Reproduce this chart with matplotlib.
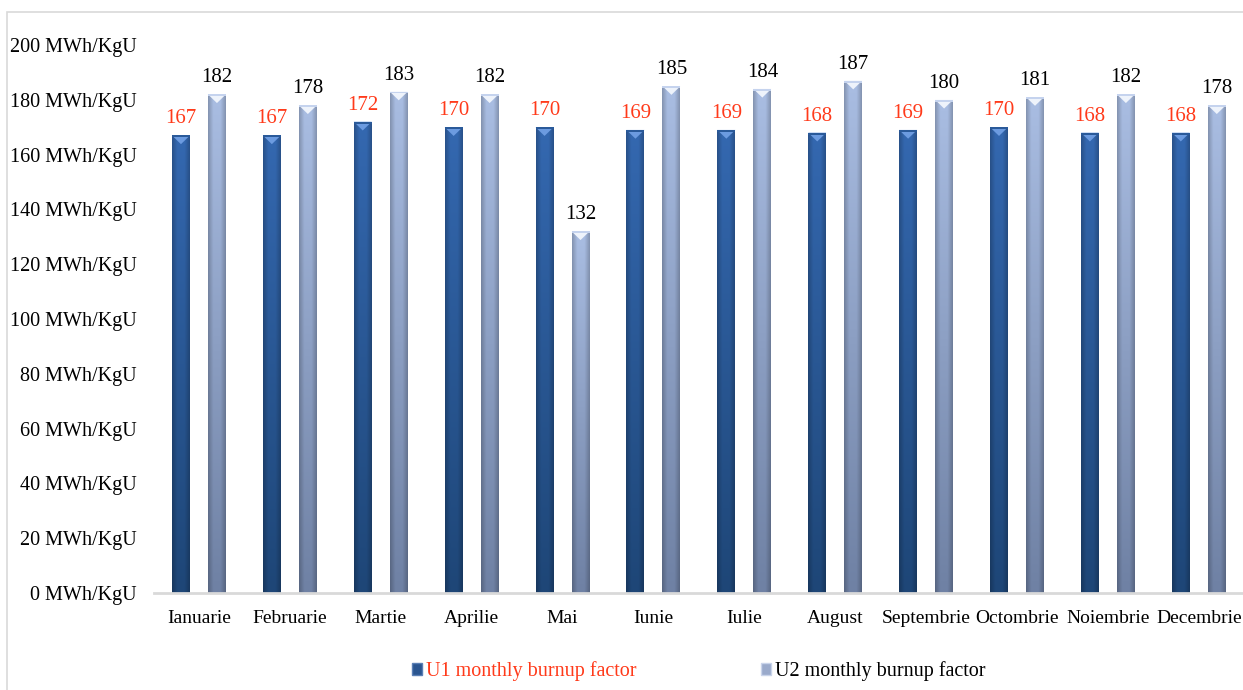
import numpy as np
import matplotlib
matplotlib.use("Agg")
import matplotlib.pyplot as plt
from matplotlib.patches import Rectangle, Polygon
from matplotlib.colors import LinearSegmentedColormap

plt.rcParams['font.family'] = ['Liberation Serif', 'DejaVu Serif']

luni = ['Ianuarie', 'Februarie', 'Martie', 'Aprilie', 'Mai', 'Iunie', 'Iulie',
        'August', 'Septembrie', 'Octombrie', 'Noiembrie', 'Decembrie']
u1 = [167, 167, 172, 170, 170, 169, 169, 168, 169, 170, 168, 168]
u2 = [182, 178, 183, 182, 132, 185, 184, 187, 180, 181, 182, 178]
yticks = list(range(0, 201, 20))

rosu = '#FF3A1A'
w = 0.198

fig = plt.figure(figsize=(12.43, 6.9), dpi=100)
ax = fig.add_axes([0.1235, 0.1406, 0.8775, 0.7942])

# chenar gri in jurul graficului
fig.patches.append(Rectangle((7 / 1243, -0.01), 1.1, 1 - 12 / 690 + 0.01,
                             transform=fig.transFigure, fill=False,
                             edgecolor='#D9D9D9', lw=1.2))

def bara_gradient(x0, h, sus, jos, muchie, bevel):
    bars = ax.bar(x0, h, width=w, color=sus, zorder=2)
    b = bars[0]
    # gradient vertical + umbra pe margini
    n = 64
    vert = np.linspace(0, 1, n)[:, None]
    oriz = np.linspace(-1, 1, n)[None, :]
    cmap = LinearSegmentedColormap.from_list('g', [jos, sus])
    img = cmap(vert * np.ones_like(oriz))
    umbra = 1 - 0.22 * np.clip(np.abs(oriz) - 0.4, 0, 1) / 0.6
    img[..., :3] *= umbra[..., None]
    im = ax.imshow(img, extent=(x0 - w / 2, x0 + w / 2, 0, h), origin='lower',
                   aspect='auto', zorder=2.1, interpolation='bilinear')
    im.set_clip_path(b)
    # tesitura de sus a barei
    d = 3.2
    ax.add_patch(Polygon([(x0 - w / 2, h), (x0 + w / 2, h), (x0, h - d)],
                         closed=True, facecolor=bevel, edgecolor='none', zorder=2.2))
    ax.add_patch(Rectangle((x0 - w / 2, h - 0.7), w, 0.7, facecolor=muchie,
                           edgecolor='none', zorder=2.3))

x = np.arange(len(luni))
for i in range(len(luni)):
    bara_gradient(x[i] - w, u1[i], '#3468B0', '#1E4677', '#2A5A9A', '#6C9BE0')
    bara_gradient(x[i] + w, u2[i], '#A9BDE2', '#6F81A4', '#C5D3EE', '#EEF3FB')
    ax.annotate(str(u1[i]), (x[i] - w, u1[i]), xytext=(0, 5), textcoords='offset points',
                ha='center', va='bottom', fontsize=15, color=rosu)
    ax.annotate(str(u2[i]), (x[i] + w, u2[i]), xytext=(0, 5), textcoords='offset points',
                ha='center', va='bottom', fontsize=15, color='black')

ax.set_xlim(-0.5, 11.5)
ax.set_ylim(0, 200)
ax.set_yticks(yticks)
ax.set_yticklabels([f'{v} MWh/KgU' for v in yticks], fontsize=14.5)
ax.set_xticks(x)
ax.set_xticklabels(luni, fontsize=14)
ax.tick_params(axis='both', length=0)
ax.tick_params(axis='y', pad=12)
ax.tick_params(axis='x', pad=12)
for s in ['top', 'right', 'left']:
    ax.spines[s].set_visible(False)
ax.spines['bottom'].set_color('#D9D9D9')
ax.spines['bottom'].set_linewidth(2)
ax.spines['bottom'].set_zorder(3)

h1 = Rectangle((0, 0), 1, 1, facecolor='#2A5590', edgecolor='#5A7FB5')
h2 = Rectangle((0, 0), 1, 1, facecolor='#9AAACB', edgecolor='#C9D4EA')
leg = fig.legend([h1, h2], ['U1 monthly burnup factor', 'U2 monthly burnup factor'],
                 loc='center', bbox_to_anchor=(0.562, 0.027), ncol=2, frameon=False,
                 fontsize=14.5, handlelength=0.5, handleheight=0.5, handletextpad=0.2,
                 columnspacing=6.2)
leg.get_texts()[0].set_color(rosu)

fig.savefig('out.png', dpi=100)
